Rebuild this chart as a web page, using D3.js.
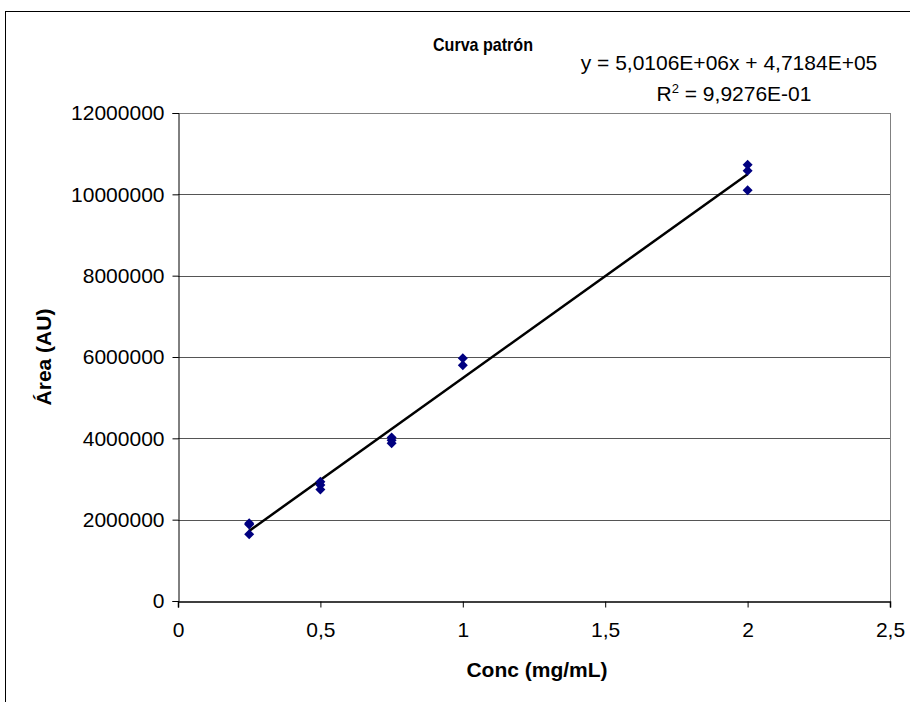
<!DOCTYPE html>
<html>
<head>
<meta charset="utf-8">
<script src="https://cdn.jsdelivr.net/npm/d3@7"></script>
<style>
	body { margin: 0; background: #fff; }
	text { font-family: "Liberation Sans", Arial, sans-serif; fill: #000; }
</style>
</head>
<body>
<svg id="chart" width="910" height="702"></svg>
<script>
// datos
const concs = [0.25, 0.25, 0.25, 0.5, 0.5, 0.5, 0.75, 0.75, 0.75, 1, 1, 2, 2, 2];
const areas = [1910000, 1880000, 1640000, 2930000, 2850000, 2740000, 4020000, 3950000, 3880000, 5970000, 5800000, 10730000, 10580000, 10100000];
const xTicks = [0, 0.5, 1, 1.5, 2, 2.5];
const yTicks = [0, 2000000, 4000000, 6000000, 8000000, 10000000, 12000000];
const trendCoef = [5.0106e6, 4.7184e5]; // pendiente, intercepto
const eqText = 'y = 5,0106E+06x + 4,7184E+05';

const svg = d3.select('#chart');
const margin = {top: 113, right: 20, bottom: 101, left: 178};
const width = 890 - margin.left;
const height = 601 - margin.top;

// marco exterior
svg.append('rect')
	.attr('x', 5.5).attr('y', 11.5)
	.attr('width', 1000).attr('height', 1000)
	.attr('fill', 'none').attr('stroke', '#000');

const g = svg.append('g').attr('transform', `translate(${margin.left},${margin.top})`);

const x = d3.scaleLinear().domain([0, 2.5]).range([0, width]);
const y = d3.scaleLinear().domain([0, 12000000]).range([height, 0]);

// líneas de división
g.selectAll('.grid')
	.data(yTicks.filter(d => d > 0))
	.enter().append('line')
	.attr('x1', 0).attr('x2', width)
	.attr('y1', d => Math.round(y(d)) + 0.5).attr('y2', d => Math.round(y(d)) + 0.5)
	.attr('stroke', d => d === 12000000 ? '#808080' : '#555');

// borde derecho del área de trazado
g.append('line')
	.attr('x1', width + 0.5).attr('x2', width + 0.5)
	.attr('y1', 0).attr('y2', height)
	.attr('stroke', '#808080');

// ejes
const fmtX = d => String(d).replace('.', ',');
const xAxis = g.append('g')
	.attr('transform', `translate(0,${Math.round(height) + 0.5})`)
	.call(d3.axisBottom(x).tickValues(xTicks).tickFormat(fmtX).tickSize(6).tickPadding(15));
const yAxis = g.append('g')
	.attr('transform', 'translate(0.5,0)')
	.call(d3.axisLeft(y).tickValues(yTicks).tickFormat(d3.format('d')).tickSize(6).tickPadding(8));

[xAxis, yAxis].forEach(a => {
	a.select('.domain').attr('stroke', '#000');
	a.selectAll('.tick line').attr('stroke', '#000');
	a.selectAll('.tick text')
		.attr('font-family', '"Liberation Sans", Arial, sans-serif')
		.attr('font-size', 21).attr('fill', '#000');
});
xAxis.select('.domain').attr('stroke-width', 1.5);

// línea de tendencia
const xr = d3.extent(concs);
g.append('line')
	.attr('x1', x(xr[0])).attr('y1', y(trendCoef[0] * xr[0] + trendCoef[1]))
	.attr('x2', x(xr[1])).attr('y2', y(trendCoef[0] * xr[1] + trendCoef[1]))
	.attr('stroke', '#000').attr('stroke-width', 2.5);

// puntos
const diamond = d3.symbol().type(d3.symbolSquare).size(50);
g.selectAll('.pt')
	.data(concs.map((c, i) => ({c: c, a: areas[i]})))
	.enter().append('path')
	.attr('d', diamond)
	.attr('transform', d => `translate(${x(d.c)},${y(d.a)}) rotate(45)`)
	.attr('fill', '#000080');

// títulos
svg.append('text')
	.attr('x', 483).attr('y', 51)
	.attr('text-anchor', 'middle')
	.attr('font-size', 19).attr('font-weight', 'bold')
	.attr('textLength', 100).attr('lengthAdjust', 'spacingAndGlyphs')
	.text('Curva patrón');

svg.append('text')
	.attr('x', 537).attr('y', 677)
	.attr('text-anchor', 'middle')
	.attr('font-size', 21).attr('font-weight', 'bold')
	.text('Conc (mg/mL)');

svg.append('text')
	.attr('transform', 'translate(51,357) rotate(-90)')
	.attr('text-anchor', 'middle')
	.attr('font-size', 21).attr('font-weight', 'bold')
	.text('Área (AU)');

// ecuación
svg.append('text')
	.attr('x', 729).attr('y', 70)
	.attr('text-anchor', 'middle')
	.attr('font-size', 21)
	.text(eqText);

const r2 = svg.append('text')
	.attr('x', 734).attr('y', 101)
	.attr('text-anchor', 'middle')
	.attr('font-size', 21);
r2.append('tspan').text('R');
r2.append('tspan').attr('dy', -8).attr('font-size', 13).text('2');
r2.append('tspan').attr('dy', 8).text(' = 9,9276E-01');
</script>
</body>
</html>
